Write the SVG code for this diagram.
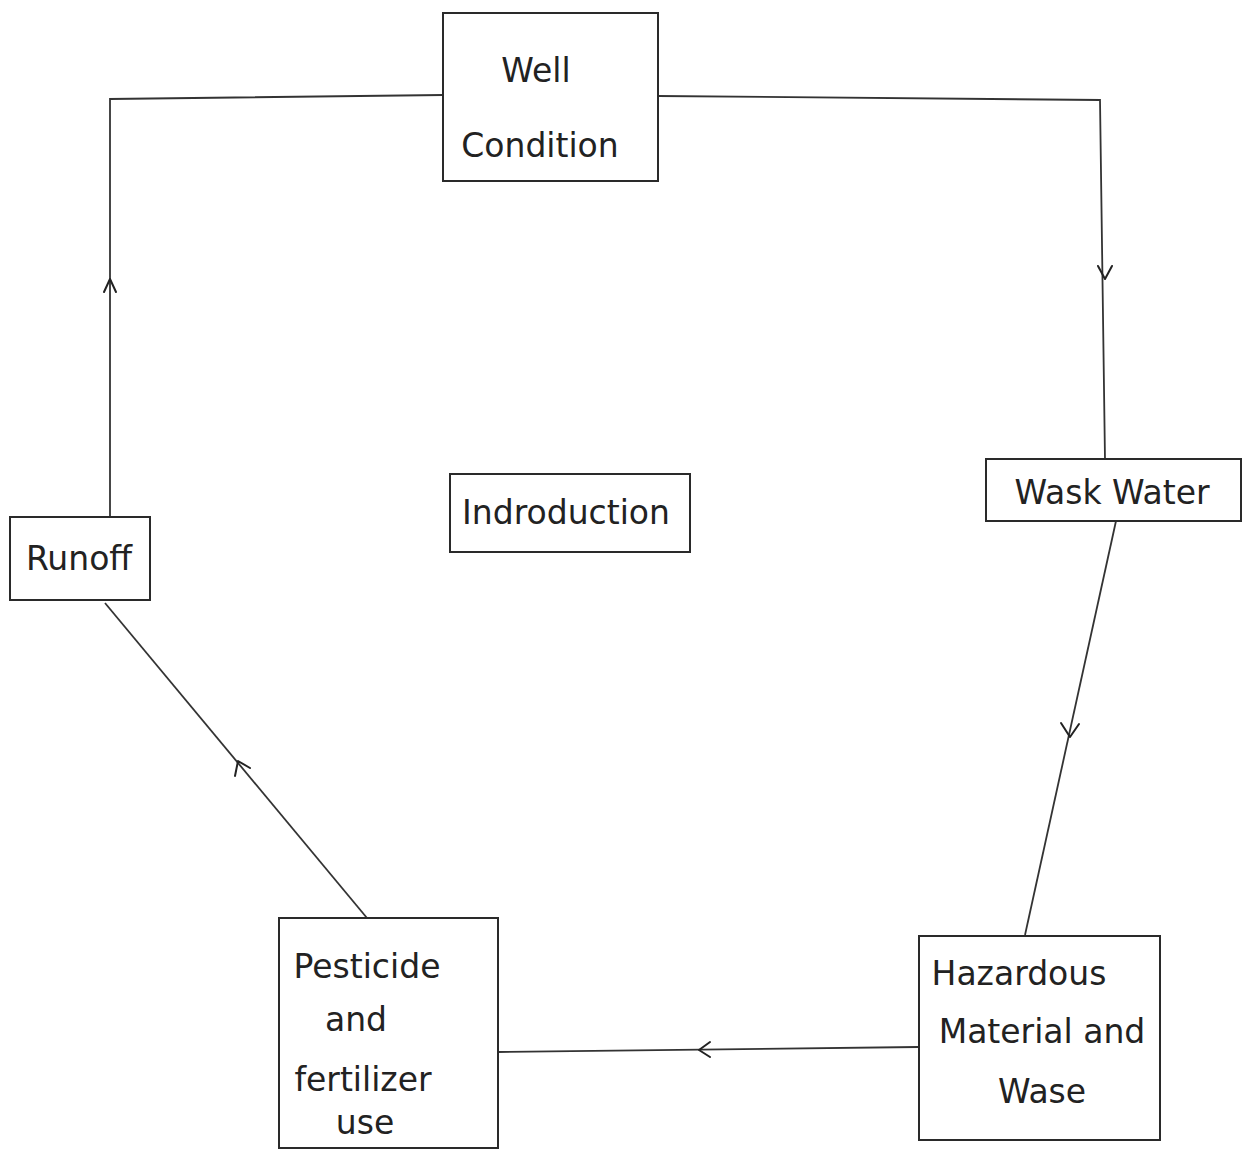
<svg xmlns="http://www.w3.org/2000/svg" width="1255" height="1151" viewBox="0 0 1255 1151">
<style>
.box{fill:none;stroke:#2a2a2a;stroke-width:2}
.ln{fill:none;stroke:#333;stroke-width:1.8}
.ah{fill:none;stroke:#222;stroke-width:2;stroke-linecap:round;stroke-linejoin:round}
text{font-family:"DejaVu Sans","Liberation Sans",sans-serif;fill:#222;font-size:33px}
</style>
<rect x="0" y="0" width="1255" height="1151" fill="#ffffff"/>
<g id="connectors">
<path class="ln" d="M443,95 L110,99 L110,517"/>
<path class="ah" d="M104,292 L110,279 L116,292"/>
<path class="ln" d="M658,96 L1100,100 L1105,460"/>
<path class="ah" d="M1098,266 L1105,279 L1112,266"/>
<path class="ln" d="M1116,521 L1025,935"/>
<path class="ah" d="M1061,723 L1070,737 L1079,724"/>
<path class="ln" d="M918,1047 L498,1052"/>
<path class="ah" d="M710,1042 L699,1050 L710,1057"/>
<path class="ln" d="M367,918 L105,603"/>
<path class="ah" d="M235,776 L238,761 L250,768"/>
</g>
<g id="well-condition">
<rect class="box" x="443" y="13" width="215" height="168"/>
<text x="536" y="82" text-anchor="middle">Well</text>
<text x="540" y="157" text-anchor="middle">Condition</text>
</g>
<g id="waste-water">
<rect class="box" x="986" y="459" width="255" height="62"/>
<text x="1112" y="504" text-anchor="middle">Wask Water</text>
</g>
<g id="hazardous">
<rect class="box" x="919" y="936" width="241" height="204"/>
<text x="1019" y="985" text-anchor="middle">Hazardous</text>
<text x="1042" y="1043" text-anchor="middle">Material and</text>
<text x="1042" y="1103" text-anchor="middle">Wase</text>
</g>
<g id="pesticide">
<rect class="box" x="279" y="918" width="219" height="230"/>
<text x="367" y="978" text-anchor="middle">Pesticide</text>
<text x="356" y="1031" text-anchor="middle">and</text>
<text x="363" y="1091" text-anchor="middle">fertilizer</text>
<text x="365" y="1134" text-anchor="middle">use</text>
</g>
<g id="runoff">
<rect class="box" x="10" y="517" width="140" height="83"/>
<text x="79" y="570" text-anchor="middle" font-size="30">Runoff</text>
</g>
<g id="introduction">
<rect class="box" x="450" y="474" width="240" height="78"/>
<text x="566" y="524" text-anchor="middle">Indroduction</text>
</g>
</svg>
